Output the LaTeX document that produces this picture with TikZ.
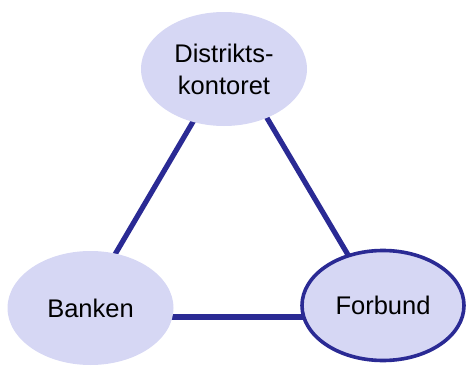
\documentclass[tikz,border=0pt]{standalone}
\usepackage{fontspec}
\setmainfont{Liberation Sans}
\usetikzlibrary{shapes.geometric,backgrounds}
\definecolor{ovalfill}{RGB}{214,215,244}
\definecolor{linkblue}{RGB}{42,42,148}
\tikzset{
  oval/.style={ellipse, fill=ovalfill, minimum width=166pt, minimum height=114pt,
    inner sep=0pt, align=center, font=\fontsize{25.5}{32}\selectfont},
  framedoval/.style={oval, draw=linkblue, line width=3.6pt,
    minimum width=162pt, minimum height=110pt},
  link/.style={draw=linkblue, line width=5.2pt}
}
\begin{document}
\begin{tikzpicture}[x=1pt,y=-1pt]
  \useasboundingbox (0,0) rectangle (467,367);
  % the three parties
  \node[oval] (dist) at (224,69) {Distrikts-\\kontoret};
  \node[oval] (bank) at (90.5,308) {Banken};
  \node[framedoval] (forb) at (383,305.5) {Forbund};
  % connections behind the ovals
  \begin{scope}[on background layer]
    \draw[link] (dist.center) -- ([xshift=-7pt]bank.center);
    \draw[link] ([xshift=14pt]dist.center) -- ([xshift=-5pt]forb.center);
    \draw[link] ([yshift=-9pt]bank.center) -- ([yshift=-11.5pt]forb.center);
  \end{scope}
\end{tikzpicture}
\end{document}
